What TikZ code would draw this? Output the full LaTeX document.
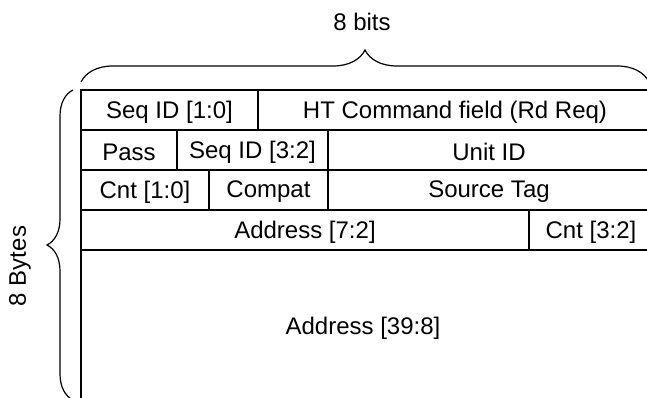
\documentclass[tikz,border=0pt]{standalone}
\usepackage{fontspec}
\setmainfont{Liberation Sans}
\usetikzlibrary{decorations.pathreplacing}

\begin{document}
\begin{tikzpicture}[x=0.75pt,y=0.75pt,yscale=-1,xscale=1,
	field/.style={inner sep=0.75pt,font=\fontsize{18}{21}\selectfont},
	grid/.style={line width=1pt},
	curly/.style={line width=0.9pt,decorate,decoration={brace,amplitude=#1}}]
	\useasboundingbox (0,0) rectangle (647,398);
	
	%Straight Lines (frame and rows)
	\draw [grid] (652,90) -- (81,90) -- (81,410) ;
	\draw [grid] (81,130) -- (652,130) ;
	\draw [grid] (81,170) -- (652,170) ;
	\draw [grid] (81,210) -- (652,210) ;
	\draw [grid] (81,250) -- (652,250) ;
	%Straight Lines (field borders)
	\draw [grid] (258,90) -- (258,130) ;
	\draw [grid] (177,130) -- (177,170) ;
	\draw [grid] (328,130) -- (328,210) ;
	\draw [grid] (209,170) -- (209,210) ;
	\draw [grid] (529,210) -- (529,250) ;
	
	%Braces
	\draw [curly=24pt] (81,82) -- (649,82) ;
	\draw [curly=19.5pt] (73,400) -- (73,90) ;
	
	% Text Node
	\draw (362,22) node [field] (bits) {8 bits};
	% Text Node
	\draw (20,266) node [field,rotate=90] (bytes) {8 Bytes};
	% Text Node
	\draw (169.5,112) node [field] (seqlo) {Seq ID [1:0]};
	% Text Node
	\draw (455,112) node [field] (htcmd) {HT Command field (Rd Req)};
	% Text Node
	\draw (129,152) node [field] (pass) {Pass};
	% Text Node
	\draw (252.5,152) node [field] (seqhi) {Seq ID [3:2]};
	% Text Node
	\draw (489,152) node [field] (unitid) {Unit ID};
	% Text Node
	\draw (145,192) node [field] (cntlo) {Cnt [1:0]};
	% Text Node
	\draw (268.5,192) node [field] (compat) {Compat};
	% Text Node
	\draw (489,192) node [field] (srctag) {Source Tag};
	% Text Node
	\draw (305,232) node [field] (addrlo) {Address [7:2]};
	% Text Node
	\draw (591,232) node [field] (cnthi) {Cnt [3:2]};
	% Text Node
	\draw (363,328) node [field] (addrhi) {Address [39:8]};
	
\end{tikzpicture}
\end{document}
